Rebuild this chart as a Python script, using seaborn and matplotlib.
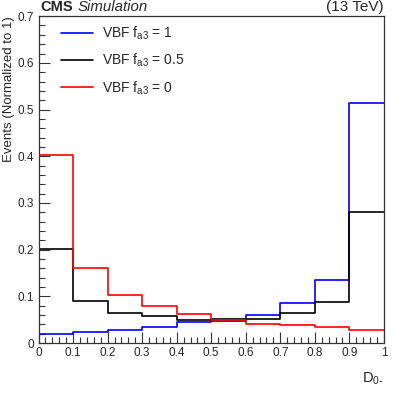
import numpy as np
import pandas as pd
import matplotlib
matplotlib.use("Agg")
import matplotlib.pyplot as plt
from matplotlib.ticker import MultipleLocator, FuncFormatter
import seaborn as sns

# bin edges of D_0- and normalized contents
edges = [0.0, 0.1, 0.2, 0.3, 0.4, 0.5, 0.6, 0.7, 0.8, 0.9, 1.0]
fa3_1 = [0.019, 0.024, 0.028, 0.034, 0.045, 0.047, 0.061, 0.085, 0.135, 0.513]
fa3_05 = [0.201, 0.089, 0.064, 0.057, 0.050, 0.051, 0.051, 0.065, 0.087, 0.281]
fa3_0 = [0.402, 0.160, 0.102, 0.079, 0.062, 0.049, 0.040, 0.038, 0.035, 0.028]
labels = ["VBF f$_{a3}$ = 1", "VBF f$_{a3}$ = 0.5", "VBF f$_{a3}$ = 0"]
colours = ["#0000ff", "#000000", "#ff0000"]

sns.set_style("ticks")
plt.rcParams["font.family"] = ["Liberation Sans", "DejaVu Sans"]
plt.rcParams["mathtext.default"] = "regular"

centers = [(a + b) / 2 for a, b in zip(edges[:-1], edges[1:])]

fig = plt.figure(figsize=(3.95, 3.94), dpi=100)
ax = fig.add_axes([0.0975, 0.1294, 0.8745, 0.8296])

for vals, lab, col in zip([fa3_1, fa3_05, fa3_0], labels, colours):
    df = pd.DataFrame({"D": centers, "w": vals})
    sns.histplot(data=df, x="D", weights="w", bins=edges, element="step",
                 fill=False, color=col, linewidth=1.2, label=lab, ax=ax)

ax.set_xlim(0, 1)
ax.set_ylim(0, 0.7)
ax.xaxis.set_major_locator(MultipleLocator(0.1))
ax.xaxis.set_minor_locator(MultipleLocator(0.02))
ax.yaxis.set_major_locator(MultipleLocator(0.1))
ax.yaxis.set_minor_locator(MultipleLocator(0.02))
fmt = FuncFormatter(lambda v, p: "0" if abs(v) < 1e-9 else ("1" if abs(v - 1) < 1e-9 else f"{v:.1f}"))
ax.xaxis.set_major_formatter(fmt)
ax.yaxis.set_major_formatter(fmt)
ax.tick_params(which="both", direction="in", top=False, right=False, labelsize=8.5,
               color="#333333", width=0.8)
ax.tick_params(which="major", length=8, pad=3)
ax.tick_params(which="minor", length=4)
for s in ax.spines.values():
    s.set_color("#333333")
    s.set_linewidth(0.9)

ax.set_xlabel("D$_{0\\text{-}}$", fontsize=10.5, loc="right", labelpad=8)
ax.set_ylabel("Events (Normalized to 1)", fontsize=9.5, loc="top")
ax.yaxis.set_label_coords(-0.068, 1.0)

ax.text(0.005, 1.008, "CMS", transform=ax.transAxes, fontsize=10.5, fontweight="bold",
        ha="left", va="bottom")
ax.text(0.114, 1.008, "Simulation", transform=ax.transAxes, fontsize=10.8,
        style="italic", ha="left", va="bottom")
ax.text(1.0, 1.008, "(13 TeV)", transform=ax.transAxes, fontsize=11,
        ha="right", va="bottom")

h, l = ax.get_legend_handles_labels()
ax.legend(h, l, loc="upper left", bbox_to_anchor=(0.03, 1.013), frameon=False,
          fontsize=10, handlelength=2.3, handletextpad=0.6, labelspacing=0.72)

fig.savefig("out.png", dpi=100)
